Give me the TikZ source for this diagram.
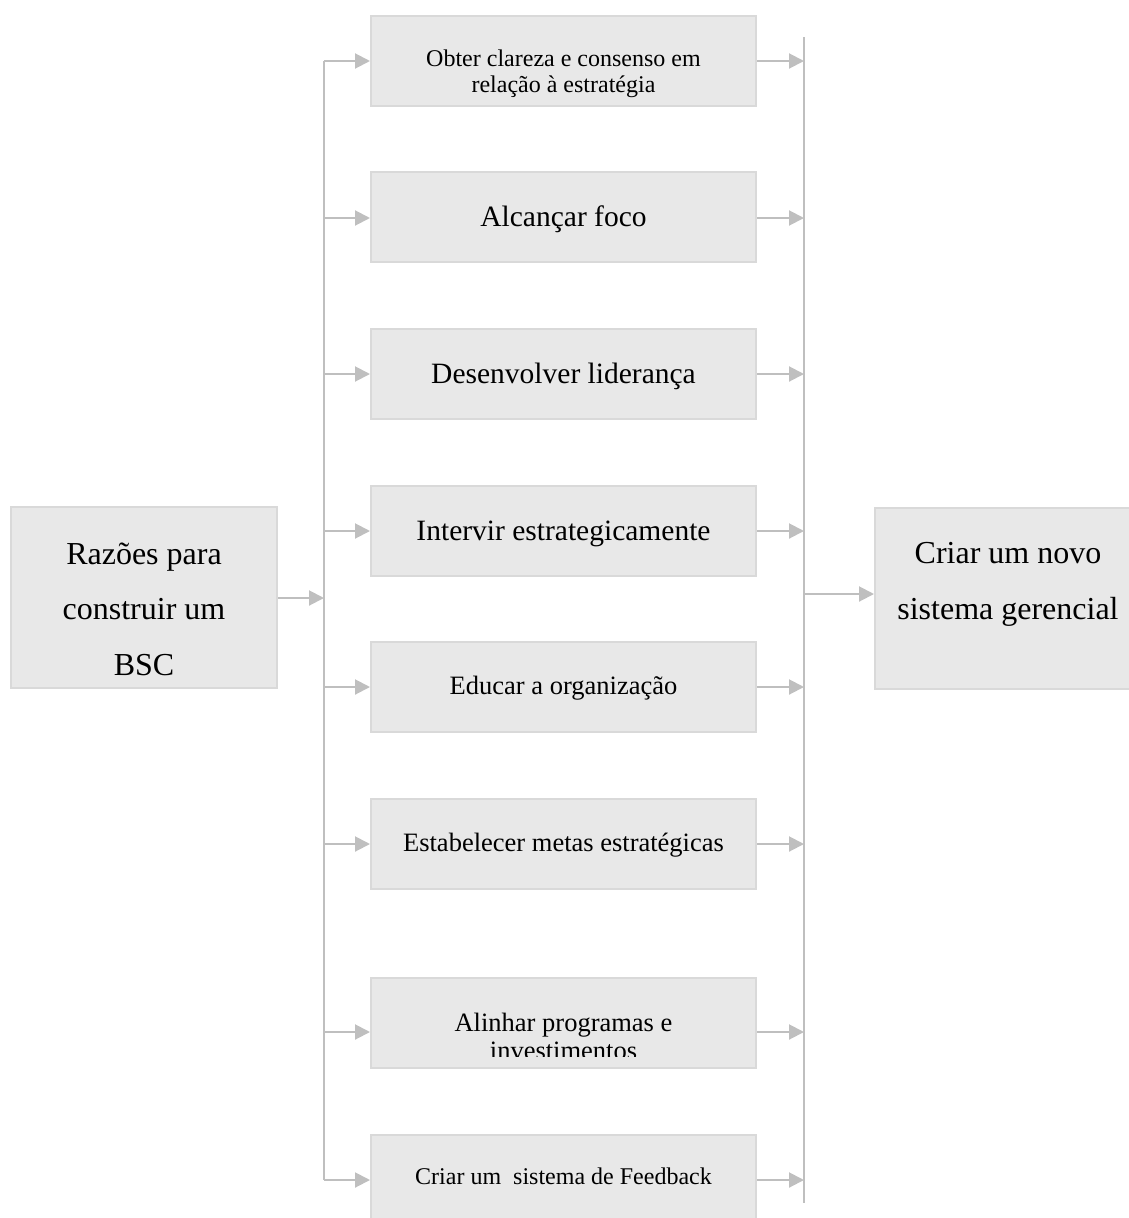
\documentclass[tikz,border=0pt]{standalone}
\usepackage{fontspec}
\setmainfont{Liberation Serif}
\usetikzlibrary{arrows.meta}

\definecolor{boxfill}{HTML}{E8E8E8}
\definecolor{boxline}{HTML}{D9D9D9}
\definecolor{wiregray}{HTML}{BFBFBF}

\begin{document}
\begin{tikzpicture}[x=1pt, y=-1pt, >={Triangle[length=15pt,width=15pt]},
  box/.style={draw=boxline, fill=boxfill, line width=2pt, inner sep=0pt,
    minimum width=385pt, minimum height=90pt},
  bigbox/.style={box, minimum width=266pt, minimum height=181pt},
  txt/.style={anchor=base, align=center, inner sep=0pt},
  wire/.style={draw=wiregray, line width=2pt}]
\useasboundingbox (0,0) rectangle (1129,1218);
%
\draw (144,597.5) node[bigbox] (lb) {};
\draw (144,675) node[txt, font=\fontsize{32}{55.5}\selectfont] (lt)
  {Razões para\\construir um\\BSC};
%
\draw (1008,598) node[bigbox] (rb) {};
\draw (1008,619) node[txt, font=\fontsize{32}{56}\selectfont] (rt)
  {Criar um novo\\sistema gerencial};
%
\draw (563.5,60.5) node[box] (b1) {};
\draw (563.5,92) node[txt, font=\fontsize{24}{26}\selectfont] (t1)
  {Obter clareza e consenso em\\relação à estratégia};
\draw (563.5,217) node[box] (b2) {};
\draw (563.5,226) node[txt, font=\fontsize{29.5}{35}\selectfont] (t2) {Alcançar foco};
\draw (563.5,374) node[box] (b3) {};
\draw (563.5,383) node[txt, font=\fontsize{29.5}{35}\selectfont] (t3) {Desenvolver liderança};
\draw (563.5,530.5) node[box] (b4) {};
\draw (563.5,540) node[txt, font=\fontsize{29.5}{35}\selectfont] (t4) {Intervir estrategicamente};
\draw (563.5,687) node[box] (b5) {};
\draw (563.5,694) node[txt, font=\fontsize{26.5}{30}\selectfont] (t5) {Educar a organização};
\draw (563.5,844) node[box] (b6) {};
\draw (563.5,851) node[txt, font=\fontsize{26.5}{30}\selectfont] (t6) {Estabelecer metas estratégicas};
\draw (563.5,1023) node[box] (b7) {};
\begin{scope}
  \clip (b7.north west) rectangle (b7.east |- 0,1056);
  \draw (563.5,1059) node[txt, font=\fontsize{26.5}{28}\selectfont] (t7)
    {Alinhar programas e\\investimentos};
\end{scope}
\draw (563.5,1180) node[box] (b8) {};
\draw (563.5,1184) node[txt, font=\fontsize{24}{28}\selectfont] (t8) {Criar um~ sistema de Feedback};
%
\coordinate (l0) at (324,598);
\coordinate (l1) at (324,61);
\coordinate (l2) at (324,218);
\coordinate (l3) at (324,374);
\coordinate (l4) at (324,531);
\coordinate (l5) at (324,687);
\coordinate (l6) at (324,844);
\coordinate (l7) at (324,1032);
\coordinate (l8) at (324,1180);
\path[wire] (l1) -- (l8);
\path[wire, ->] (lb.east |- l0) -- (l0);
\path[wire, ->] (l1) -- (l1 -| b1.west);
\path[wire, ->] (l2) -- (l2 -| b2.west);
\path[wire, ->] (l3) -- (l3 -| b3.west);
\path[wire, ->] (l4) -- (l4 -| b4.west);
\path[wire, ->] (l5) -- (l5 -| b5.west);
\path[wire, ->] (l6) -- (l6 -| b6.west);
\path[wire, ->] (l7) -- (l7 -| b7.west);
\path[wire, ->] (l8) -- (l8 -| b8.west);
%
\coordinate (r0) at (804,594);
\coordinate (rtop) at (804,37);
\coordinate (rbot) at (804,1203);
\path[wire] (rtop) -- (rbot);
\path[wire, ->] (b1.east |- l1) -- (l1 -| r0);
\path[wire, ->] (b2.east |- l2) -- (l2 -| r0);
\path[wire, ->] (b3.east |- l3) -- (l3 -| r0);
\path[wire, ->] (b4.east |- l4) -- (l4 -| r0);
\path[wire, ->] (b5.east |- l5) -- (l5 -| r0);
\path[wire, ->] (b6.east |- l6) -- (l6 -| r0);
\path[wire, ->] (b7.east |- l7) -- (l7 -| r0);
\path[wire, ->] (b8.east |- l8) -- (l8 -| r0);
\path[wire, ->] (r0) -- (r0 -| rb.west);
\end{tikzpicture}
\end{document}
